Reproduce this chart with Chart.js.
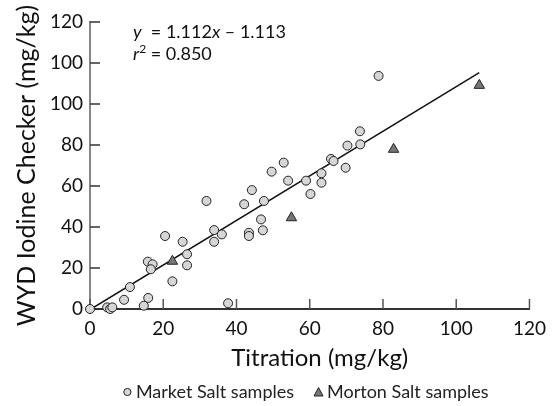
<!DOCTYPE html>
<html>
<head>
<meta charset="utf-8">
<script src="https://cdn.jsdelivr.net/npm/chart.js@4.4.0/dist/chart.umd.min.js"></script>
<style>
html,body{margin:0;padding:0;background:#fff;}
#contenedor{width:554px;height:406px;}
</style>
</head>
<body>
<div id="contenedor"><canvas id="miGrafica"></canvas></div>
<script>
// Datos
const mercadoX=[0,4.7,5.5,6.1,9.3,10.9,14.7,15.9,15.8,17.1,16.6,20.5,22.5,25.3,26.5,26.5,31.8,33.9,33.9,36.0,37.7,42.1,44.2,43.4,43.4,46.7,47.2,47.5,49.6,52.9,54.1,59.0,60.2,63.2,63.2,65.8,66.5,69.8,70.3,73.7,73.8,78.8];
const mercadoY=[0,0.8,0,0.8,4.5,10.7,1.6,5.4,23.1,21.8,19.4,35.6,13.5,32.8,26.7,21.3,52.7,38.5,32.8,36.4,2.8,51.1,58.0,37.2,35.6,43.7,38.4,52.7,67.0,71.4,62.6,62.6,56.1,66.2,61.6,73.2,72.2,68.9,79.7,86.7,80.3,113.7];
const mortonX=[22.5,55.0,82.9,106.3];
const mortonY=[23.3,44.5,77.9,109.1];
const rectaX=[0.3,106.3];
const rectaY=[0,115.3];
const etiquetasY=['0','20','40','60','80','100','100','120'];
const tituloX='Titration (mg/kg)';

const fuente='Lato, "Open Sans", sans-serif';

const toPuntos=(xs,ys)=>xs.map((x,i)=>({x:x,y:ys[i]}));

// Marcas hacia adentro, ecuacion, titulo X y leyenda
const marcasInternas={
    id:'marcasInternas',
    beforeDatasetsDraw(chart){
        const ctx=chart.ctx;
        const sx=chart.scales.x;
        const sy=chart.scales.y;
        const a=chart.chartArea;
        ctx.save();
        ctx.lineWidth=1.5;
        ctx.strokeStyle='#555';
        sx.ticks.forEach(t=>{
            const px=sx.getPixelForValue(t.value);
            ctx.beginPath();
            ctx.moveTo(px,a.bottom);
            ctx.lineTo(px,a.bottom-10);
            ctx.stroke();
        });
        ctx.strokeStyle='#333';
        sy.ticks.forEach(t=>{
            const py=sy.getPixelForValue(t.value);
            ctx.beginPath();
            ctx.moveTo(a.left,py);
            ctx.lineTo(a.left+10,py);
            ctx.stroke();
        });
        ctx.restore();
    },
    afterDraw(chart){
        const ctx=chart.ctx;
        const a=chart.chartArea;
        ctx.save();
        ctx.fillStyle='#111';
        ctx.textBaseline='alphabetic';
        const escribir=(partes,x,y)=>{
            partes.forEach(p=>{
                ctx.font=(p.it?'italic ':'')+(p.size||18)+'px '+fuente;
                ctx.fillText(p.t,x,y+(p.dy||0));
                x+=ctx.measureText(p.t).width;
            });
        };
        escribir([{t:'y',it:true},{t:'  = 1.112'},{t:'x',it:true},{t:' \u2013 1.113'}],a.left+43,a.top+16);
        escribir([{t:'r',it:true},{t:'2',size:12,dy:-7},{t:' = 0.850'}],a.left+43,a.top+38);

        // titulo del eje X
        ctx.font='24px '+fuente;
        ctx.textAlign='center';
        ctx.textBaseline='middle';
        ctx.fillText(tituloX,a.left+a.width/2+10,a.bottom+49);

        // leyenda
        const ds=chart.data.datasets.filter(d=>d.enLeyenda);
        ctx.font='18px '+fuente;
        ctx.textAlign='left';
        const anchos=ds.map(d=>ctx.measureText(d.label).width);
        const marca=9, hueco=4, sep=20;
        let total=0;
        anchos.forEach((w,i)=>{total+=marca+hueco+w+(i>0?sep:0);});
        let x=a.left+a.width/2-4-total/2;
        const y=392;
        ds.forEach((d,i)=>{
            ctx.fillStyle=d.backgroundColor;
            ctx.strokeStyle=d.borderColor;
            ctx.lineWidth=1;
            ctx.beginPath();
            if(d.pointStyle==='triangle'){
                ctx.moveTo(x,y+4);
                ctx.lineTo(x+marca/2,y-4.5);
                ctx.lineTo(x+marca,y+4);
                ctx.closePath();
            }else{
                ctx.arc(x+marca/2,y,3.6,0,Math.PI*2);
            }
            ctx.fill();
            ctx.stroke();
            ctx.fillStyle='#222';
            ctx.fillText(d.label,x+marca+hueco,y);
            x+=marca+hueco+anchos[i]+sep;
        });
        ctx.restore();
    }
};

const ctx=document.getElementById('miGrafica');

new Chart(ctx,{
    type:'scatter',
    data:{
        datasets:[
            {
                label:'Market Salt samples',
                enLeyenda:true,
                data:toPuntos(mercadoX,mercadoY),
                pointStyle:'circle',
                pointRadius:4.5,
                backgroundColor:'#d6d6d6',
                borderColor:'#222',
                borderWidth:1,
                clip:false
            },
            {
                label:'Morton Salt samples',
                enLeyenda:true,
                data:toPuntos(mortonX,mortonY),
                pointStyle:'triangle',
                pointRadius:6,
                backgroundColor:'#777',
                borderColor:'#222',
                borderWidth:1,
                clip:false
            },
            {
                label:'ajuste',
                type:'line',
                data:toPuntos(rectaX,rectaY),
                borderColor:'#111',
                borderWidth:1.5,
                pointRadius:0,
                fill:false,
                order:5
            }
        ]
    },
    options:{
        responsive:true,
        maintainAspectRatio:false,
        animation:false,
        layout:{padding:{top:22,right:24,left:0,bottom:32}},
        plugins:{
            tooltip:{enabled:false},
            legend:{display:false}
        },
        scales:{
            x:{
                type:'linear',
                min:0,
                max:120,
                afterFit:(s)=>{s.height=65;},
                ticks:{stepSize:20,padding:8,color:'#111',font:{family:fuente,size:19}},
                grid:{display:false,drawTicks:false},
                border:{color:'#333',width:2},
                title:{display:false}
            },
            y:{
                type:'linear',
                min:0,
                max:140,
                afterFit:(s)=>{s.width=90;},
                ticks:{stepSize:20,padding:7,color:'#111',font:{family:fuente,size:19},
                    callback:(v,i)=>etiquetasY[i]},
                grid:{display:false,drawTicks:false},
                border:{color:'#888',width:2},
                title:{display:true,text:'WYD Iodine Checker (mg/kg)',color:'#111',font:{family:fuente,size:25},padding:{top:12,bottom:0}}
            }
        }
    },
    plugins:[marcasInternas]
});
</script>
</body>
</html>
